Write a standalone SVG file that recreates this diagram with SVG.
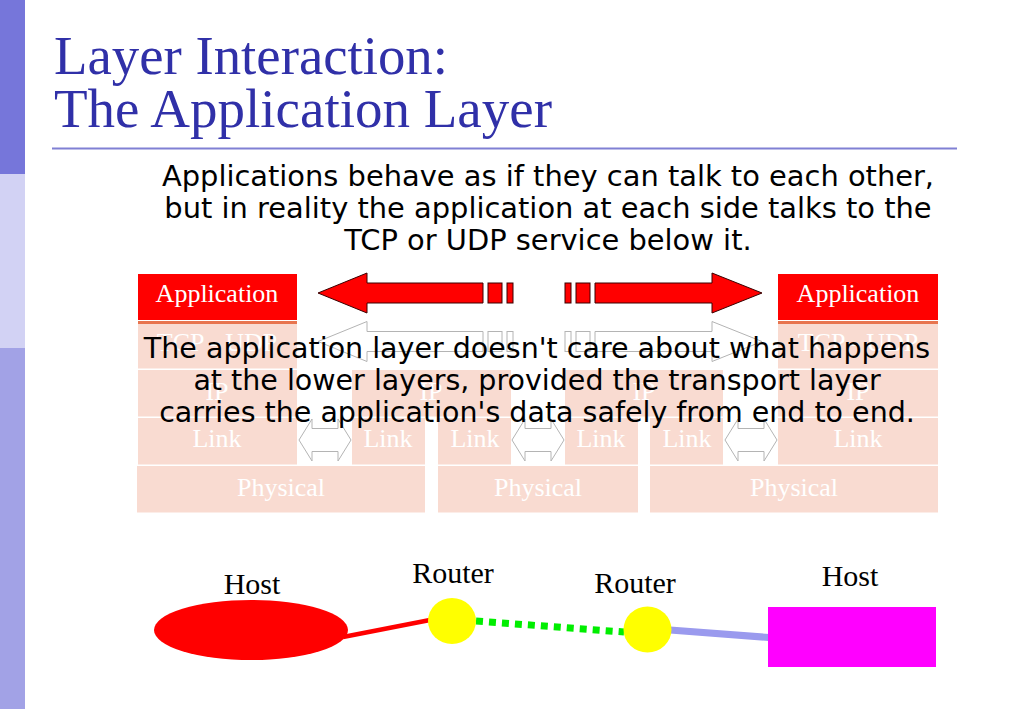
<svg xmlns="http://www.w3.org/2000/svg" width="1024" height="709" viewBox="0 0 1024 709">
<style>
.pink{fill:#f9dbd1}
.app{fill:#ff0000}
.lyr{font-family:"Liberation Serif",serif;font-size:26px;fill:#ffffff;text-anchor:middle}
.apptxt{font-family:"Liberation Serif",serif;font-size:26px;fill:#ffffff;text-anchor:middle}
.sans{font-family:"DejaVu Sans",Verdana,sans-serif;font-size:28.5px;fill:#000000;text-anchor:middle}
.sub{font-size:28.9px}
.lbl{font-family:"Liberation Serif",serif;font-size:30px;fill:#000000;text-anchor:middle}
.orange{stroke:#e8744e;stroke-width:3}
.redarrow{fill:#ff0000;stroke:#3a0000;stroke-width:1}
.fadearrow{fill:#ffffff;stroke:#b4b4b4;stroke-width:1}
.dbl{fill:#ffffff;stroke:#b4b4b4;stroke-width:1}
</style>
<rect x="0" y="0" width="1024" height="709" fill="#ffffff"/>
<g id="sidebar">
<rect x="0" y="0" width="25" height="174" fill="#7676da"/>
<rect x="0" y="174" width="25" height="174" fill="#d2d2f4"/>
<rect x="0" y="348" width="25" height="361" fill="#a2a2e6"/>
</g>
<g id="title" font-family="'Liberation Serif',serif" font-size="54" fill="#3030a8">
<text x="54" y="74" textLength="394" lengthAdjust="spacingAndGlyphs">Layer Interaction:</text>
<text x="54" y="127" textLength="498" lengthAdjust="spacingAndGlyphs">The Application Layer</text>
<line x1="52" y1="148.5" x2="957" y2="148.5" stroke="#8080d4" stroke-width="2"/>
</g>
<g id="subtitle">
<text x="548" y="186" class="sans sub">Applications behave as if they can talk to each other,</text>
<text x="548" y="218" class="sans sub">but in reality the application at each side talks to the</text>
<text x="548" y="250" class="sans sub">TCP or UDP service below it.</text>
</g>
<g id="host1-stack">
<rect class="app" x="138" y="274" width="159" height="46"/>
<text class="apptxt" x="217" y="302">Application</text>
<line class="orange" x1="138" y1="322.5" x2="297" y2="322.5"/>
<rect class="pink" x="138" y="324" width="159" height="44.5"/>
<text class="lyr" x="217" y="351">TCP - UDP</text>
<rect class="pink" x="138" y="370" width="159" height="46.5"/>
<text class="lyr" x="217" y="400">IP</text>
<rect class="pink" x="138" y="418" width="159" height="46.5"/>
<text class="lyr" x="217" y="447">Link</text>
</g>
<g id="router1-stack">
<rect class="pink" x="352" y="370" width="159" height="46.5"/>
<text class="lyr" x="431" y="400">IP</text>
<rect class="pink" x="352" y="418" width="73" height="46.5"/>
<text class="lyr" x="388" y="447">Link</text>
<rect class="pink" x="438" y="418" width="73" height="46.5"/>
<text class="lyr" x="475" y="447">Link</text>
</g>
<g id="router2-stack">
<rect class="pink" x="565" y="370" width="158" height="46.5"/>
<text class="lyr" x="644" y="400">IP</text>
<rect class="pink" x="565" y="418" width="73" height="46.5"/>
<text class="lyr" x="601" y="447">Link</text>
<rect class="pink" x="650" y="418" width="73" height="46.5"/>
<text class="lyr" x="687" y="447">Link</text>
</g>
<g id="host2-stack">
<rect class="app" x="778" y="274" width="160" height="46"/>
<text class="apptxt" x="858" y="302">Application</text>
<line class="orange" x1="778" y1="322.5" x2="938" y2="322.5"/>
<rect class="pink" x="778" y="324" width="160" height="44.5"/>
<text class="lyr" x="858" y="351">TCP - UDP</text>
<rect class="pink" x="778" y="370" width="160" height="46.5"/>
<text class="lyr" x="858" y="400">IP</text>
<rect class="pink" x="778" y="418" width="160" height="46.5"/>
<text class="lyr" x="858" y="447">Link</text>
</g>
<g id="physical">
<rect class="pink" x="137" y="466" width="288" height="46.5"/>
<text class="lyr" x="281" y="496">Physical</text>
<rect class="pink" x="438" y="466" width="200" height="46.5"/>
<text class="lyr" x="538" y="496">Physical</text>
<rect class="pink" x="650" y="466" width="288" height="46.5"/>
<text class="lyr" x="794" y="496">Physical</text>
</g>
<g id="connectors">
<g id="fade-arrows" transform="translate(0,48.5)">
<path class="fadearrow" d="M318,293 L367,273 L367,283 L483,283 L483,303 L367,303 L367,313 Z"/>
<rect class="fadearrow" x="488" y="283" width="14" height="20"/>
<rect class="fadearrow" x="507" y="283" width="6" height="20"/>
<rect class="fadearrow" x="565" y="283" width="6" height="20"/>
<rect class="fadearrow" x="576" y="283" width="14" height="20"/>
<path class="fadearrow" d="M595,283 L712,283 L712,273 L762,293 L712,313 L712,303 L595,303 Z"/>
</g>
<g id="link-arrows">
<path class="dbl" d="M299,440 L312,419 L312,428.5 L338,428.5 L338,419 L351,440 L338,461 L338,451.5 L312,451.5 L312,461 Z"/>
<path class="dbl" d="M512,440 L525,419 L525,428.5 L551,428.5 L551,419 L564,440 L551,461 L551,451.5 L525,451.5 L525,461 Z"/>
<path class="dbl" d="M725,440 L738,419 L738,428.5 L764,428.5 L764,419 L777,440 L764,461 L764,451.5 L738,451.5 L738,461 Z"/>
</g>
<g id="app-arrows">
<path class="redarrow" d="M318,293 L367,273 L367,283 L483,283 L483,303 L367,303 L367,313 Z"/>
<rect class="redarrow" x="488" y="283" width="14" height="20"/>
<rect class="redarrow" x="507" y="283" width="6" height="20"/>
<rect class="redarrow" x="565" y="283" width="6" height="20"/>
<rect class="redarrow" x="576" y="283" width="14" height="20"/>
<path class="redarrow" d="M595,283 L712,283 L712,273 L762,293 L712,313 L712,303 L595,303 Z"/>
</g>
<g id="net-links">
<line x1="343" y1="637" x2="430" y2="620" stroke="#ff0000" stroke-width="4.5"/>
<line x1="476" y1="621" x2="624" y2="632" stroke="#00ee00" stroke-width="7" stroke-dasharray="7 6"/>
<line x1="670" y1="630" x2="769" y2="637.5" stroke="#9a9aee" stroke-width="7"/>
</g>
</g>
<g id="overlay-text">
<text class="sans" x="537" y="358">The application layer doesn't care about what happens</text>
<text class="sans" x="537" y="390">at the lower layers, provided the transport layer</text>
<text class="sans" x="537" y="422">carries the application's data safely from end to end.</text>
</g>
<g id="host1">
<ellipse cx="251" cy="630" rx="97" ry="30" fill="#ff0000"/>
<text class="lbl" x="252" y="594">Host</text>
</g>
<g id="router1">
<ellipse cx="452" cy="621" rx="24" ry="23" fill="#ffff00"/>
<text class="lbl" x="453" y="583">Router</text>
</g>
<g id="router2">
<ellipse cx="647.5" cy="629.5" rx="24" ry="23" fill="#ffff00"/>
<text class="lbl" x="635" y="593">Router</text>
</g>
<g id="host2">
<rect x="768" y="607" width="168" height="60" fill="#ff00ff"/>
<text class="lbl" x="850" y="586">Host</text>
</g>
</svg>
